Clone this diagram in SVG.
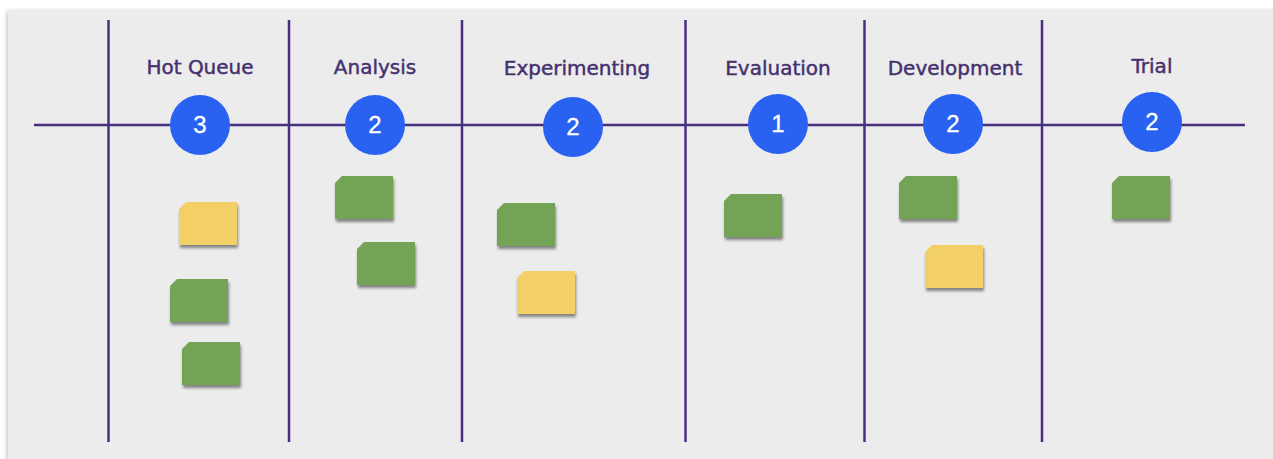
<svg xmlns="http://www.w3.org/2000/svg" width="1273" height="459" viewBox="0 0 1273 459">
  <defs>
    <filter id="panelShadow" x="-2%" y="-2%" width="104%" height="104%">
      <feGaussianBlur in="SourceAlpha" stdDeviation="2"/>
      <feOffset dx="-1" dy="1"/>
      <feComponentTransfer><feFuncA type="linear" slope="0.25"/></feComponentTransfer>
      <feMerge><feMergeNode/><feMergeNode in="SourceGraphic"/></feMerge>
    </filter>
    <filter id="cardShadow" x="-20%" y="-20%" width="140%" height="150%">
      <feGaussianBlur in="SourceAlpha" stdDeviation="1.6"/>
      <feOffset dx="1" dy="2.5"/>
      <feComponentTransfer><feFuncA type="linear" slope="0.45"/></feComponentTransfer>
      <feMerge><feMergeNode/><feMergeNode in="SourceGraphic"/></feMerge>
    </filter>
    <!-- sticky card with clipped top-left corner, 58 x 43 -->
    <path id="card" d="M7,0 H58 V43 H0 V7 Z"/>
  </defs>
  <style>
    .grid { stroke: #4a2f80; stroke-width: 2.5; fill: none; stroke-linecap: butt; }
    .title { font-family: "DejaVu Sans", Verdana, sans-serif; font-size: 20px; fill: #45306f; stroke: #45306f; stroke-width: 0.45; text-anchor: middle; }
    .count circle { fill: #2962f0; }
    .count text { font-family: "Liberation Sans", Arial, sans-serif; font-size: 24px; fill: #ffffff; stroke: #ffffff; stroke-width: 0.3; text-anchor: middle; }
    .green { fill: #73a457; filter: url(#cardShadow); }
    .yellow { fill: #f3d066; filter: url(#cardShadow); }
  </style>

  <!-- board background -->
  <rect x="0" y="0" width="1273" height="459" fill="#ffffff"/>
  <rect x="8" y="10" width="1270" height="455" fill="#ececec" filter="url(#panelShadow)"/>

  <!-- lane dividers and header rule -->
  <g id="connectors">
    <line class="grid" x1="34" y1="125" x2="1245" y2="125"/>
    <line class="grid" x1="108.5" y1="20" x2="108.5" y2="442"/>
    <line class="grid" x1="289" y1="20" x2="289" y2="442"/>
    <line class="grid" x1="462" y1="20" x2="462" y2="442"/>
    <line class="grid" x1="685.5" y1="20" x2="685.5" y2="442"/>
    <line class="grid" x1="864.5" y1="20" x2="864.5" y2="442"/>
    <line class="grid" x1="1042" y1="20" x2="1042" y2="442"/>
  </g>

  <!-- Hot Queue -->
  <g id="lane-hot-queue">
    <text class="title" x="200" y="74">Hot Queue</text>
    <g class="count"><circle cx="200" cy="125" r="30"/><text x="200" y="133">3</text></g>
    <use href="#card" class="yellow" x="179" y="202"/>
    <use href="#card" class="green" x="170" y="279"/>
    <use href="#card" class="green" x="182" y="342"/>
  </g>

  <!-- Analysis -->
  <g id="lane-analysis">
    <text class="title" x="375" y="74">Analysis</text>
    <g class="count"><circle cx="375" cy="125" r="30"/><text x="375" y="133">2</text></g>
    <use href="#card" class="green" x="335" y="176"/>
    <use href="#card" class="green" x="357" y="242"/>
  </g>

  <!-- Experimenting -->
  <g id="lane-experimenting">
    <text class="title" x="577" y="75">Experimenting</text>
    <g class="count"><circle cx="573" cy="127" r="30"/><text x="573" y="135">2</text></g>
    <use href="#card" class="green" x="497" y="203"/>
    <use href="#card" class="yellow" x="517" y="271"/>
  </g>

  <!-- Evaluation -->
  <g id="lane-evaluation">
    <text class="title" x="778" y="75">Evaluation</text>
    <g class="count"><circle cx="778" cy="124" r="30"/><text x="778" y="132">1</text></g>
    <use href="#card" class="green" x="724" y="194"/>
  </g>

  <!-- Development -->
  <g id="lane-development">
    <text class="title" x="955" y="75">Development</text>
    <g class="count"><circle cx="953" cy="124" r="30"/><text x="953" y="132">2</text></g>
    <use href="#card" class="green" x="899" y="176"/>
    <use href="#card" class="yellow" x="925" y="245"/>
  </g>

  <!-- Trial -->
  <g id="lane-trial">
    <text class="title" x="1152" y="73">Trial</text>
    <g class="count"><circle cx="1152" cy="122" r="30"/><text x="1152" y="130">2</text></g>
    <use href="#card" class="green" x="1112" y="176"/>
  </g>
</svg>
